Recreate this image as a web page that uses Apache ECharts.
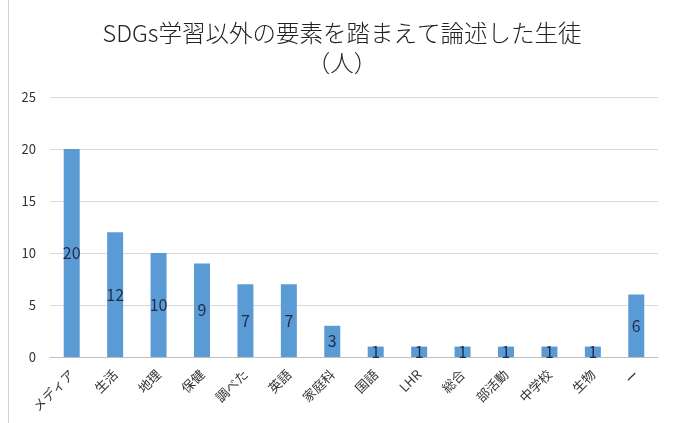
<!DOCTYPE html>
<html><head><meta charset="utf-8">
<script src="https://cdn.jsdelivr.net/npm/echarts@6/dist/echarts.min.js"></script>
<style>html,body{margin:0;padding:0;background:#fff}#c{width:684px;height:423px;position:relative}
#b{position:absolute;left:8px;top:0;width:1px;height:423px;background:#d0d0d0}</style>
</head><body><div id="c"></div><div id="b"></div>
<script>
const categories = ['メディア','生活','地理','保健','調べた','英語','家庭科','国語','LHR','総合','部活動','中学校','生物','ー'];
const values = [20,12,10,9,7,7,3,1,1,1,1,1,1,6];
const yTicks = [0,5,10,15,20,25];
const chart = echarts.init(document.getElementById('c'));
const font = '"Noto Sans CJK JP", sans-serif';
chart.setOption({
  animation:false,
  title:{text:'SDGs学習以外の要素を踏まえて論述した生徒\n（人）',left:'center',top:13,
    textStyle:{fontFamily:font,fontWeight:300,fontSize:23.5,color:'#222',lineHeight:30}},
  grid:{left:50,right:26,top:97,bottom:66},
  xAxis:{type:'category',data:categories,
    axisLine:{lineStyle:{color:'#bfbfbf'}},axisTick:{show:false},
    axisLabel:{rotate:45,fontFamily:font,fontSize:13,color:'#333',interval:0,margin:15}},
  yAxis:{type:'value',min:yTicks[0],max:yTicks[yTicks.length-1],interval:5,
    axisLine:{show:false},axisTick:{show:false},
    splitLine:{lineStyle:{color:'#d9d9d9'}},
    axisLabel:{fontFamily:font,fontSize:13,color:'#333',margin:14}},
  series:[{type:'bar',data:values,barWidth:16,
    itemStyle:{color:'#5B9BD5'},
    label:{show:true,position:'inside',fontFamily:font,fontSize:16,color:'#1f2d4a'}}]
});
</script></body></html>
